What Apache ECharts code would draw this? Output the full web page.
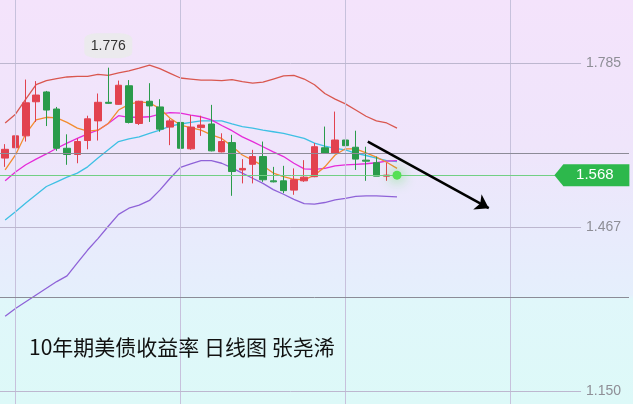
<!DOCTYPE html>
<html><head><meta charset="utf-8">
<script src="https://cdn.jsdelivr.net/npm/echarts@6/dist/echarts.min.js"></script>
<style>html,body{margin:0;padding:0;}#c{width:633px;height:404px;}</style>
</head><body><div id="c"></div>
<script>
// ---- data ----
const categories = Array.from({length: 61}, (_, i) => 'D' + (i + 1));
// [open, close, low, high]
const ohlc = [
[1.601,1.618,1.584,1.628],[1.621,1.644,1.617,1.686],[1.644,1.708,1.633,1.753],[1.710,1.723,1.671,1.750],
[1.729,1.694,1.663,1.731],[1.696,1.620,1.615,1.700],[1.620,1.608,1.588,1.647],[1.608,1.633,1.591,1.639],
[1.635,1.677,1.618,1.683],[1.673,1.709,1.635,1.726],[1.709,1.707,1.706,1.776],[1.705,1.742,1.704,1.751],
[1.741,1.670,1.668,1.752],[1.668,1.711,1.665,1.712],[1.711,1.702,1.671,1.746],[1.700,1.657,1.652,1.715],
[1.661,1.673,1.626,1.677],[1.670,1.620,1.615,1.678],[1.619,1.661,1.617,1.684],[1.660,1.665,1.644,1.683],
[1.667,1.615,1.614,1.704],[1.613,1.633,1.612,1.649],[1.631,1.575,1.528,1.646],[1.578,1.581,1.552,1.599],
[1.589,1.604,1.552,1.617],[1.604,1.559,1.555,1.633],[1.557,1.555,1.554,1.584],[1.557,1.538,1.533,1.586],
[1.539,1.559,1.530,1.581],[1.557,1.564,1.555,1.597],[1.565,1.623,1.564,1.630],[1.621,1.610,1.609,1.662],
[1.610,1.636,1.609,1.691],[1.636,1.625,1.624,1.659],[1.622,1.599,1.578,1.654],[1.597,1.595,1.557,1.623],
[1.592,1.566,1.566,1.604],[1.566,1.568,1.557,1.592],[1.572,1.568,1.567,1.574]
];
const ma5 = [1.578,1.607,1.648,1.675,1.680,1.679,1.670,1.659,1.653,1.655,1.668,1.694,1.705,1.710,1.708,1.697,1.678,1.665,1.660,1.655,1.646,1.639,1.624,1.607,1.597,1.586,1.572,1.565,1.560,1.559,1.568,1.584,1.607,1.619,1.619,1.611,1.603,1.593,1.581];
const ma10 = [1.557,1.574,1.588,1.599,1.609,1.620,1.630,1.639,1.648,1.655,1.668,1.683,1.680,1.680,1.681,1.686,1.689,1.688,1.684,1.681,1.675,1.664,1.654,1.642,1.633,1.623,1.613,1.604,1.591,1.580,1.579,1.581,1.586,1.588,1.589,1.590,1.592,1.595,1.596];
const bollMid = [1.481,1.497,1.514,1.530,1.546,1.555,1.564,1.572,1.584,1.601,1.617,1.633,1.638,1.642,1.649,1.655,1.663,1.667,1.670,1.673,1.673,1.673,1.667,1.662,1.659,1.655,1.652,1.649,1.644,1.639,1.630,1.624,1.620,1.617,1.610,1.606,1.601,1.596,1.594];
const bollUp = [1.669,1.686,1.715,1.743,1.751,1.755,1.758,1.759,1.759,1.763,1.761,1.766,1.770,1.775,1.781,1.774,1.765,1.756,1.754,1.752,1.752,1.751,1.753,1.749,1.746,1.748,1.754,1.760,1.761,1.754,1.743,1.726,1.715,1.706,1.694,1.682,1.673,1.669,1.659];
const bollLow = [1.295,1.310,1.323,1.336,1.349,1.362,1.373,1.398,1.423,1.445,1.469,1.492,1.504,1.510,1.519,1.539,1.562,1.583,1.590,1.596,1.596,1.591,1.582,1.572,1.562,1.552,1.540,1.531,1.521,1.513,1.512,1.515,1.520,1.523,1.527,1.528,1.528,1.527,1.526];
const axisTicks = [1.785, 1.467, 1.150];
const darkLines = [1.611, 1.332];
const vLines = [1, 17, 33, 49];
const lastPrice = 1.568;
const arrowFrom = [35.17, 1.633];
const arrowTo = [46.9, 1.504];
const title = '10年期美债收益率 日线图 张尧浠';

// ---- chart ----
const chart = echarts.init(document.getElementById('c'));
const lineS = (name, data, color) => ({
  name, type: 'line', data, symbol: 'none', smooth: false, silent: true,
  lineStyle: { color, width: 1.3 }, z: 3
});
const tickLines = axisTicks.map(v => [
  { coord: [-0.5, v], lineStyle: { color: '#bdb7cf', width: 1 } },
  { coord: [55.85, v], label: { show: true, position: 'end', formatter: v.toFixed(3), color: '#8e8e96', fontSize: 14, fontFamily: 'Liberation Sans' } }
]);
const darkL = darkLines.map(v => [
  { coord: [-0.5, v], lineStyle: { color: '#8c8b97', width: 1 } },
  { coord: [60.5, v] }
]);
chart.setOption({
  animation: false,
  backgroundColor: {
    type: 'linear', x: 0, y: 0, x2: 0, y2: 1,
    colorStops: [
      { offset: 0, color: '#f4e3fb' },
      { offset: 0.36, color: '#efe5fb' },
      { offset: 0.55, color: '#e9eafc' },
      { offset: 0.73, color: '#e5effc' },
      { offset: 0.74, color: '#e0f7fa' },
      { offset: 1, color: '#ddf9f8' }
    ]
  },
  title: {
    text: title, left: 24, top: 332,
    textStyle: { fontSize: 21, fontWeight: 'normal', color: '#111', fontFamily: 'Noto Sans CJK SC' }
  },
  grid: { left: -2, right: 4, top: 0, bottom: 0 },
  xAxis: [
    { type: 'category', data: categories, show: false, boundaryGap: true },
    { type: 'value', min: -0.5, max: 60.5, show: false }
  ],
  yAxis: { type: 'value', min: 1.125, max: 1.907, show: false, splitLine: { show: false } },
  series: [
    {
      type: 'line', xAxisIndex: 1, data: [], silent: true, z: 1,
      markLine: {
        silent: true, symbol: 'none', animation: false,
        label: { show: false },
        data: [
          ...vLines.map(i => ({ xAxis: i, lineStyle: { color: '#c7c1dc', width: 1, type: 'solid' } })),
          ...tickLines, ...darkL,
          [
            { coord: [-0.5, lastPrice], lineStyle: { color: '#72cf84', width: 1, type: 'solid' } },
            { coord: [56, lastPrice] }
          ]
        ],
        lineStyle: { type: 'solid' }
      }
    },
    lineS('bollUp', bollUp, '#d9574f'),
    lineS('bollLow', bollLow, '#8f63d8'),
    lineS('bollMid', bollMid, '#3ec0e4'),
    lineS('ma10', ma10, '#e52bd9'),
    lineS('ma5', ma5, '#f28c30'),
    {
      type: 'candlestick', data: ohlc, barWidth: 7, z: 4,
      itemStyle: { color: '#e2424f', color0: '#2a9b4b', borderColor: '#e2424f', borderColor0: '#2a9b4b', borderWidth: 1 },
      markPoint: {
        silent: true,
        data: [{ type: 'max', valueDim: 'highest' }],
        symbol: 'roundRect', symbolSize: [48, 25], symbolOffset: [0, -22],
        itemStyle: { color: 'rgba(234,234,236,0.92)' },
        label: { show: true, color: '#333', fontSize: 14, fontFamily: 'Liberation Sans', formatter: p => Number(p.value).toFixed(3) }
      }
    },
    {
      type: 'line', xAxisIndex: 1, data: [], silent: true, z: 6,
      markLine: {
        silent: true, symbol: ['none', 'arrow'], symbolSize: 13,
        label: { show: false },
        lineStyle: { color: '#000', width: 2.5, type: 'solid' },
        data: [[{ coord: arrowFrom }, { coord: arrowTo }]]
      },
      markPoint: {
        silent: true,
        data: [
          {
            coord: [38, lastPrice], symbol: 'circle', symbolSize: 9,
            itemStyle: { color: '#55e055', shadowBlur: 14, shadowColor: '#2fe02f' },
            label: { show: false }
          },
          {
            coord: [56.9, lastPrice], symbol: 'path://M0,11 L9,0 L75,0 L75,22 L9,22 Z',
            symbolSize: [75, 22], symbolKeepAspect: false,
            itemStyle: { color: '#2db84c' },
            label: { show: true, formatter: lastPrice.toFixed(3), color: '#fff', fontSize: 15, fontFamily: 'Liberation Sans', offset: [3, 0] }
          }
        ]
      }
    }
  ]
});
</script></body></html>
